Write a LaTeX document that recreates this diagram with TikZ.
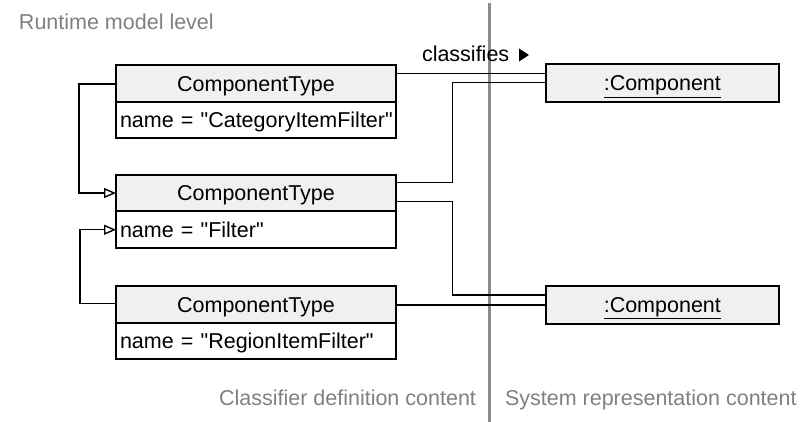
\documentclass[tikz,border=0pt]{standalone}
\usepackage{fontspec}
\setmainfont{Liberation Sans}
\usetikzlibrary{arrows.meta}
\definecolor{hdrfill}{HTML}{F0F0F0}
\definecolor{lanegray}{HTML}{8C8C8C}
\definecolor{labelgray}{HTML}{808080}
\newcommand{\dq}{\textquotedbl}

\begin{document}
\begin{tikzpicture}[x=1pt,y=-1pt,
  every node/.style={font=\fontsize{21.5}{25}\selectfont, inner sep=0pt, outer sep=0pt},
  classhdr/.style={draw, line width=2pt, fill=hdrfill, minimum width=280pt,
    minimum height=36.7pt, text height=15.4pt, text depth=0pt, anchor=north west},
  classattr/.style={draw, line width=2pt, fill=white, minimum width=280pt,
    minimum height=36.7pt, text height=15.4pt, text depth=0pt, inner xsep=4pt,
    text width=272pt, align=left, anchor=north west},
  instbox/.style={draw, line width=2pt, fill=hdrfill, minimum width=233.3pt,
    minimum height=38pt, text height=15.4pt, text depth=0pt, anchor=north west},
  lanelabel/.style={text=labelgray},
  conn/.style={draw, line width=1.4pt},
  genline/.style={draw, line width=1.4pt, -{Triangle[open,length=12pt,width=10pt,line width=1.4pt]}},
  lane/.style={draw=lanegray, line width=2.5pt}
]
\useasboundingbox (0,0) rectangle (806,422);

% separator between the two content areas
\draw[lane] (489.7,3) -- (489.7,422);

% lane captions
\node[lanelabel, anchor=base west] (lvl) at (19,29.3) {Runtime model level};
\node[lanelabel, anchor=base east] (cdc) at (476,405) {Classifier definition content};
\node[lanelabel, anchor=base west] (src) at (505,405) {System representation content};

% component types
\node[classhdr] (t1h) at (116,65) {ComponentType};
\node[classattr] (t1a) at (t1h.south west) {\mbox{name = \dq CategoryItemFilter\dq}};
\node[classhdr] (t2h) at (116,174.7) {ComponentType};
\node[classattr] (t2a) at (t2h.south west) {\mbox{name = \dq Filter\dq}};
\node[classhdr] (t3h) at (116,286) {ComponentType};
\node[classattr] (t3a) at (t3h.south west) {\mbox{name = \dq RegionItemFilter\dq}};

% component instances
\node[instbox] (c1) at (545.7,64.3) {\underline{:Component}};
\node[instbox] (c2) at (545.7,285.7) {\underline{:Component}};

% association label
\node[anchor=base west] (cls) at (422,62) {classifies};
\fill (519,48.5) -- (529,55) -- (519,61.5) -- cycle;

% routing points
\coordinate (gx1) at (79,0);
\coordinate (gx2) at (80,0);
\coordinate (bx) at (452.3,0);

% classification links
\draw[conn] (t1h.east |- 0,73.3) -- (c1.west |- 0,73.3);
\draw[conn] (t2h.east |- 0,182.7) -| (bx |- 0,82.7) -- (c1.west |- 0,82.7);
\draw[conn] (t2h.east |- 0,201.7) -| (bx |- 0,295) -- (c2.west |- 0,295);
\draw[conn] (t3h.east |- 0,305) -- (c2.west |- 0,305);

% generalizations
\draw[genline] (t1h.west |- 0,84) -| (gx1 |- t2h.west) -- (t2h.west);
\draw[genline] (t3h.west |- 0,303.3) -| (gx2 |- t2a.west) -- (t2a.west);
\end{tikzpicture}
\end{document}
